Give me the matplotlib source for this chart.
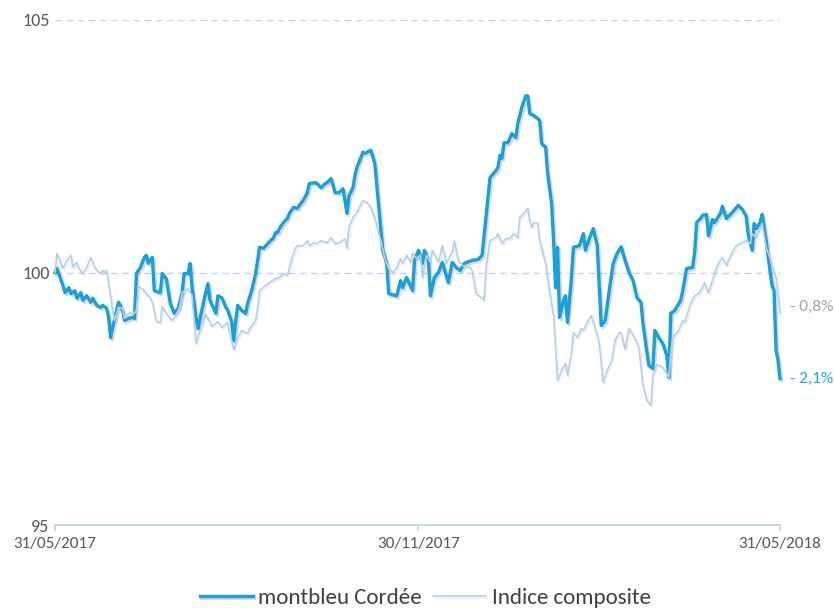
import matplotlib
matplotlib.use("Agg")
import matplotlib.pyplot as plt
import matplotlib.dates as mdates
import matplotlib.patheffects as pe
import pandas as pd
from matplotlib import font_manager as fm


START = pd.Timestamp("2017-05-31")
TICK_DATES = ["2017-05-31", "2017-11-30", "2018-05-31"]
Y_TICKS = [95, 100, 105]

# days after 31/05/2017 and rebased value (100 = start)
main_days = [
    0, 1, 4, 5, 7, 8, 10, 11, 13, 14,
    16, 18, 19, 21, 23, 24, 26, 27, 28, 29,
    32, 34, 35, 37, 39, 40, 41, 43, 45, 46,
    47, 49, 50, 53, 54, 56, 58, 60, 62, 64,
    65, 67, 68, 69, 71, 72, 75, 77, 78, 81,
    82, 84, 86, 87, 89, 90, 91, 92, 94, 96,
    97, 99, 101, 103, 105, 107, 110, 111, 112, 113,
    115, 117, 118, 120, 122, 123, 125, 127, 128, 131,
    132, 134, 136, 137, 139, 141, 143, 145, 147, 148,
    150, 151, 152, 155, 156, 159, 161, 163, 165, 167,
    168, 172, 174, 175, 177, 180, 181, 183, 185, 186,
    188, 189, 191, 193, 195, 198, 200, 202, 204, 206,
    210, 213, 215, 219, 222, 223, 224, 225, 226, 228,
    230, 232, 233, 235, 237, 238, 239, 241, 243, 244,
    245, 247, 248, 250, 251, 252, 253, 254, 256, 257,
    258, 260, 261, 264, 266, 267, 269, 271, 273, 275,
    277, 279, 281, 283, 285, 287, 289, 291, 293, 295,
    296, 298, 299, 301, 302, 304, 306, 308, 309, 310,
    312, 315, 316, 318, 321, 322, 323, 325, 326, 328,
    329, 331, 332, 335, 336, 338, 341, 344, 346, 348,
    349, 351, 352, 353, 355, 356, 358, 360, 361, 362,
    363, 364, 365,
]
main_values = [
    100.00, 100.08, 99.74, 99.60, 99.70, 99.58, 99.64, 99.49, 99.60, 99.45,
    99.54, 99.41, 99.49, 99.35, 99.31, 99.35, 99.29, 99.11, 98.71, 98.91,
    99.41, 99.25, 99.05, 99.09, 99.11, 99.09, 99.98, 100.10, 100.30, 100.34,
    100.18, 100.30, 99.64, 99.60, 99.98, 99.88, 99.39, 99.19, 99.29, 99.60,
    99.98, 99.98, 100.18, 99.70, 99.11, 98.89, 99.45, 99.78, 99.45, 99.19,
    99.54, 99.50, 99.31, 99.25, 99.01, 98.65, 99.05, 99.35, 99.25, 99.19,
    99.39, 99.64, 99.98, 100.50, 100.48, 100.57, 100.69, 100.79, 100.79, 100.87,
    100.99, 101.07, 101.17, 101.29, 101.27, 101.33, 101.43, 101.58, 101.76, 101.78,
    101.76, 101.68, 101.76, 101.78, 101.86, 101.58, 101.58, 101.66, 101.17, 101.52,
    101.68, 101.92, 102.08, 102.38, 102.36, 102.42, 102.16, 101.29, 100.44, 100.18,
    99.58, 99.54, 99.84, 99.70, 99.90, 99.64, 100.24, 100.44, 100.18, 100.44,
    100.24, 99.54, 99.90, 100.00, 100.20, 99.80, 100.20, 100.10, 100.04, 100.18,
    100.24, 100.26, 100.34, 101.88, 102.02, 102.08, 102.32, 102.26, 102.57, 102.57,
    102.75, 102.67, 102.95, 103.27, 103.50, 103.50, 103.15, 103.11, 103.05, 103.01,
    102.55, 102.48, 101.96, 101.37, 100.63, 99.70, 100.50, 99.11, 99.45, 99.54,
    99.01, 99.90, 100.50, 100.53, 100.77, 100.44, 100.67, 100.87, 100.53, 98.95,
    99.05, 99.64, 100.18, 100.38, 100.51, 100.24, 100.00, 99.84, 99.50, 99.41,
    98.99, 98.42, 98.16, 98.10, 98.85, 98.71, 98.59, 98.36, 97.92, 99.19,
    99.25, 99.45, 99.64, 100.08, 100.10, 100.40, 100.99, 101.07, 101.13, 101.15,
    100.73, 101.05, 100.99, 101.17, 101.31, 101.07, 101.19, 101.33, 101.25, 101.11,
    100.75, 100.44, 100.97, 100.87, 100.99, 101.15, 100.63, 100.02, 99.74, 99.64,
    98.46, 98.26, 97.90,
]

index_days = [
    0, 1, 3, 4, 6, 8, 9, 11, 12, 14,
    16, 18, 20, 21, 23, 24, 25, 26, 27, 29,
    30, 32, 34, 35, 36, 38, 39, 41, 42, 44,
    46, 48, 49, 51, 53, 54, 56, 59, 61, 63,
    64, 67, 69, 70, 71, 73, 76, 77, 79, 82,
    84, 87, 88, 90, 92, 94, 97, 98, 101, 102,
    103, 106, 108, 111, 113, 115, 117, 119, 121, 122,
    125, 127, 128, 130, 132, 134, 137, 139, 141, 143,
    146, 147, 148, 150, 152, 155, 157, 159, 161, 164,
    166, 168, 170, 172, 174, 175, 177, 179, 180, 182,
    184, 185, 187, 189, 190, 193, 195, 197, 200, 201,
    203, 205, 209, 210, 212, 215, 216, 217, 219, 222,
    223, 225, 227, 229, 231, 233, 234, 236, 238, 239,
    240, 241, 243, 244, 247, 249, 251, 252, 253, 255,
    257, 258, 260, 261, 263, 265, 266, 268, 270, 272,
    274, 276, 278, 280, 282, 284, 285, 287, 289, 292,
    294, 296, 298, 300, 301, 303, 306, 308, 309, 310,
    311, 314, 316, 317, 320, 322, 324, 326, 327, 329,
    331, 332, 334, 336, 338, 341, 343, 346, 348, 350,
    351, 353, 355, 356, 358, 360, 361, 363, 364, 365,
]
index_values = [
    100.00, 100.38, 100.18, 100.08, 100.24, 100.34, 100.10, 100.20, 100.08, 99.98,
    100.10, 100.30, 100.10, 100.04, 99.98, 100.04, 100.00, 100.04, 99.78, 99.25,
    99.05, 99.31, 99.29, 99.09, 99.15, 99.21, 99.15, 99.25, 99.72, 99.68,
    99.58, 99.49, 99.41, 99.03, 99.01, 99.33, 99.19, 99.05, 99.15, 99.35,
    99.60, 99.68, 99.54, 99.05, 98.59, 98.85, 99.17, 99.09, 98.93, 99.03,
    98.91, 99.01, 98.79, 98.46, 98.71, 98.85, 98.79, 98.89, 99.05, 99.31,
    99.64, 99.74, 99.80, 99.88, 99.90, 99.98, 99.94, 100.24, 100.48, 100.53,
    100.53, 100.63, 100.53, 100.59, 100.57, 100.63, 100.59, 100.69, 100.57, 100.59,
    100.67, 100.48, 100.89, 101.09, 101.19, 101.43, 101.39, 101.29, 101.07, 100.63,
    100.30, 100.08, 100.00, 100.08, 100.28, 100.18, 100.34, 100.20, 100.38, 100.28,
    100.34, 99.90, 100.34, 100.20, 100.44, 100.20, 100.53, 100.18, 100.40, 100.63,
    100.24, 100.14, 100.10, 100.04, 99.58, 99.49, 99.45, 100.10, 100.63, 100.69,
    100.77, 100.57, 100.67, 100.67, 100.77, 100.69, 101.09, 101.17, 101.27, 101.03,
    100.89, 100.99, 100.97, 100.63, 100.18, 99.62, 99.15, 98.51, 97.86, 98.06,
    98.20, 97.96, 98.40, 98.81, 98.71, 98.89, 98.85, 99.01, 99.15, 98.89,
    98.59, 97.82, 98.06, 98.22, 98.65, 98.81, 98.81, 98.48, 98.89, 98.69,
    98.51, 97.76, 97.47, 97.37, 97.96, 98.18, 98.12, 98.00, 97.92, 98.40,
    98.71, 98.85, 99.05, 99.01, 99.39, 99.54, 99.58, 99.70, 99.80, 99.60,
    99.84, 99.98, 100.18, 100.30, 100.14, 100.40, 100.53, 100.59, 100.63, 100.57,
    100.77, 100.69, 100.87, 100.97, 100.50, 100.28, 100.14, 99.90, 99.54, 99.20,
]

SERIES_NAMES = ["montbleu Cordée", "Indice composite"]

MAIN_COLOR = "#17a0db"
INDEX_COLOR = "#b3d0ec"
AXIS_COLOR = "#c5d3ec"
TEXT_COLOR = "#595959"


def pick_font():
    names = {f.name for f in fm.fontManager.ttflist}
    for name in ["Carlito", "Lato", "Open Sans", "DejaVu Sans"]:
        if name in names:
            return name
    return "DejaVu Sans"


def to_dates(days):
    return START + pd.to_timedelta(days, unit="D")


def perf_label(values):
    pct = (values[-1] / values[0] - 1) * 100
    return "- " + f"{abs(pct):.1f}%".replace(".", ",")


def main() -> None:
    plt.rcParams.update({"font.family": [pick_font(), "DejaVu Sans"]})

    fig = plt.figure(figsize=(8.34, 6.08), dpi=100)
    fig.patch.set_facecolor("white")
    ax = fig.add_axes([55 / 834, 83 / 608, 725 / 834, 505 / 608])

    shadow = [pe.SimpleLineShadow(offset=(1.2, -1.5), shadow_color="#555555", alpha=0.22), pe.Normal()]
    soft_shadow = [pe.SimpleLineShadow(offset=(1.0, -1.2), shadow_color="#777777", alpha=0.12), pe.Normal()]

    (main_line,) = ax.plot(
        to_dates(main_days), main_values, color=MAIN_COLOR, lw=2.4,
        solid_joinstyle="round", path_effects=shadow, zorder=3, clip_on=False,
    )
    (index_line,) = ax.plot(
        to_dates(index_days), index_values, color=INDEX_COLOR, lw=1.2,
        solid_joinstyle="round", path_effects=soft_shadow, zorder=4, clip_on=False,
    )

    ax.set_ylim(95, 105)
    ax.set_xlim(START, pd.Timestamp(TICK_DATES[-1]))
    ax.set_yticks(Y_TICKS)
    ax.set_xticks(pd.to_datetime(TICK_DATES))
    ax.xaxis.set_major_formatter(mdates.DateFormatter("%d/%m/%Y"))

    ax.yaxis.grid(True, color="#c9d5ef", lw=1.0, linestyle=(0, (5, 3)))
    ax.set_axisbelow(True)
    for side in ["top", "right", "left"]:
        ax.spines[side].set_visible(False)
    ax.spines["bottom"].set_color(AXIS_COLOR)
    ax.spines["bottom"].set_linewidth(1.4)

    ax.tick_params(axis="y", length=0, pad=4, labelsize=13, labelcolor=TEXT_COLOR)
    ax.tick_params(axis="x", length=4, width=1.2, color=AXIS_COLOR, pad=4.5, labelsize=12.3, labelcolor=TEXT_COLOR)

    end = pd.Timestamp(TICK_DATES[-1])
    ax.annotate(perf_label(index_values), xy=(end, index_values[-1]), xytext=(7, 4),
                textcoords="offset points", va="center", ha="left", fontsize=12.4,
                color="#a3a3a3", annotation_clip=False)
    ax.annotate(perf_label(main_values), xy=(end, main_values[-1]), xytext=(7, 0),
                textcoords="offset points", va="center", ha="left", fontsize=12.4,
                color="#1fa6e6", annotation_clip=False)

    fig.legend(
        [main_line, index_line], SERIES_NAMES,
        loc="center", bbox_to_anchor=(0.51, 0.016), ncol=2, frameon=False,
        fontsize=16.5, handlelength=2.3, handletextpad=0.25, columnspacing=0.5,
        labelcolor="#404040",
    )

    fig.savefig("out.png", dpi=100)


if __name__ == "__main__":
    main()
